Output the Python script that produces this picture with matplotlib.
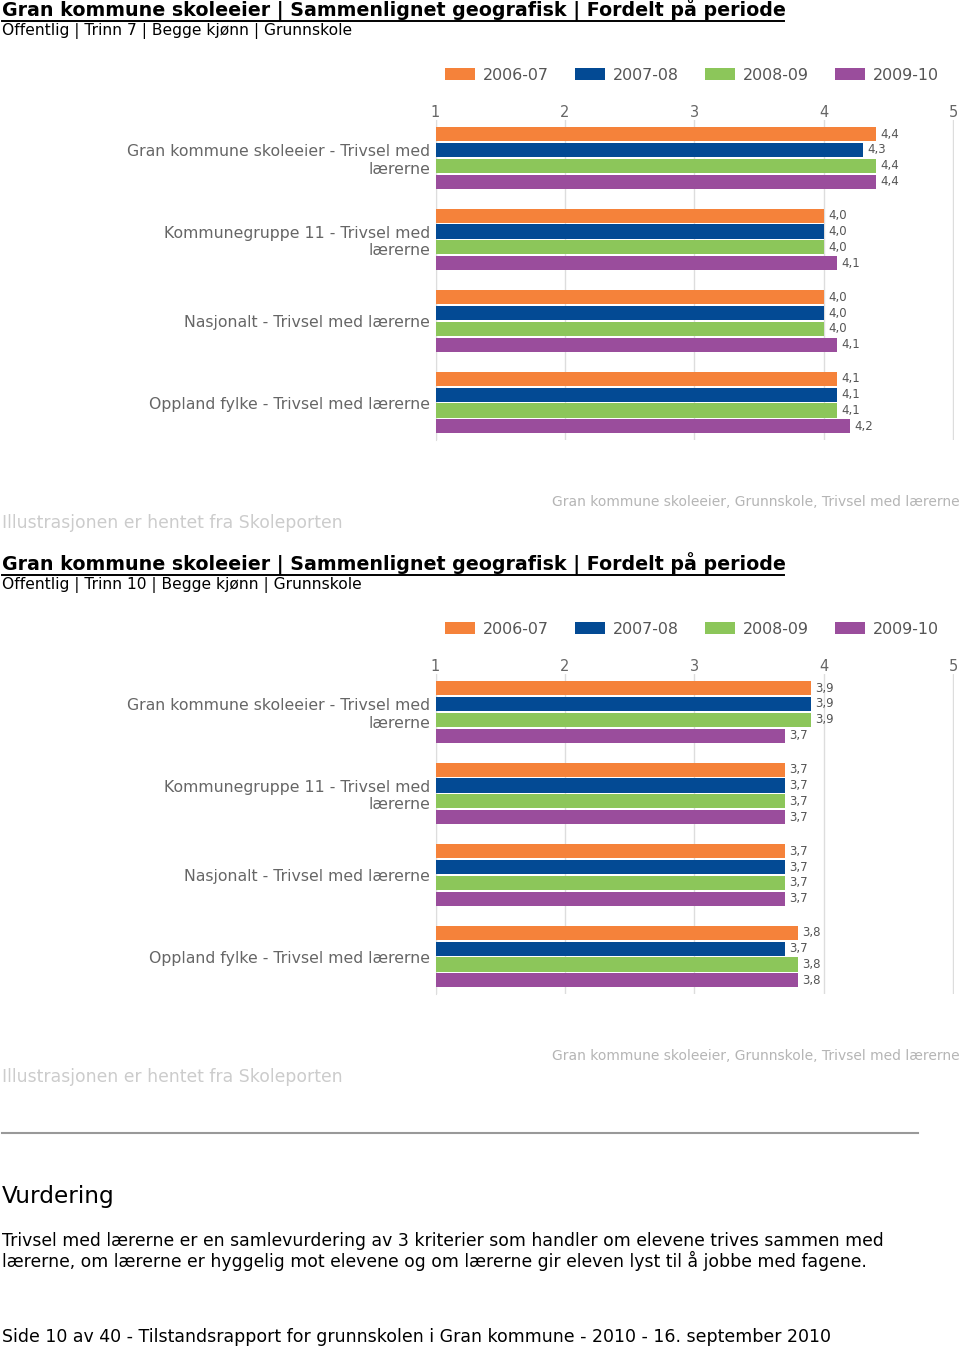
import numpy as np
import matplotlib
matplotlib.use('Agg')
import matplotlib.pyplot as plt
from matplotlib.lines import Line2D
from matplotlib.patches import Patch

W, H = 960, 1347

categories = ['Gran kommune skoleeier - Trivsel med\nlærerne',
              'Kommunegruppe 11 - Trivsel med\nlærerne',
              'Nasjonalt - Trivsel med lærerne',
              'Oppland fylke - Trivsel med lærerne']
periods = ['2006-07', '2007-08', '2008-09', '2009-10']
colors = ['#F5823A', '#034A94', '#8CC65A', '#9A4D9C']

# trinn 7
t7_0607 = [4.4, 4.0, 4.0, 4.1]
t7_0708 = [4.3, 4.0, 4.0, 4.1]
t7_0809 = [4.4, 4.0, 4.0, 4.1]
t7_0910 = [4.4, 4.1, 4.1, 4.2]

# trinn 10
t10_0607 = [3.9, 3.7, 3.7, 3.8]
t10_0708 = [3.9, 3.7, 3.7, 3.7]
t10_0809 = [3.9, 3.7, 3.7, 3.8]
t10_0910 = [3.7, 3.7, 3.7, 3.8]

title = 'Gran kommune skoleeier | Sammenlignet geografisk | Fordelt på periode'
source_txt = 'Gran kommune skoleeier, Grunnskole, Trivsel med lærerne'


def fx(x):
    return x / W


def fy(y):
    return 1 - y / H


fig = plt.figure(figsize=(9.6, 13.47), dpi=100)
fig.patch.set_facecolor('white')


def panel(off, subtitle, series):
    # header
    fig.text(fx(2), fy(10 + off), title, fontsize=13.7, fontweight='bold',
             color='black', va='center', ha='left')
    fig.add_artist(Line2D([fx(2), fx(784)], [fy(20.5 + off), fy(20.5 + off)],
                          color='black', lw=1.4))
    fig.text(fx(2), fy(31 + off), subtitle, fontsize=11.2, color='black',
             va='center', ha='left')

    # legend
    handles = [Patch(facecolor=c, edgecolor='none') for c in colors]
    fig.legend(handles, periods, loc='center', bbox_to_anchor=(fx(692), fy(75 + off)),
               ncol=4, frameon=False, fontsize=11.4, labelcolor='#555555',
               handlelength=1.9, handleheight=0.76, handletextpad=0.5,
               columnspacing=1.65, borderpad=0)

    top, bottom = 120 + off, 440 + off
    ax = fig.add_axes([fx(435.5), fy(bottom), fx(952 - 435.5) + 0.002, (bottom - top) / H])
    ax.set_facecolor('white')

    ypos = np.arange(len(categories))
    pitch = 0.196
    for k, vals in enumerate(series):
        yy = ypos + (k - 1.5) * pitch
        ax.barh(yy, np.array(vals) - 1, left=1, height=0.172, color=colors[k],
                edgecolor='none', zorder=3)
        for y, v in zip(yy, vals):
            ax.annotate(f'{v:.1f}'.replace('.', ','), (v, y), xytext=(3, 0),
                        textcoords='offset points', va='center', ha='left',
                        fontsize=8.5, color='#555555')

    ax.set_xlim(1, 5.004)
    ax.set_ylim(3.46, -0.466)
    ax.set_xticks([1, 2, 3, 4, 5])
    ax.xaxis.tick_top()
    ax.tick_params(axis='x', length=0, pad=0, labelsize=10.5, labelcolor='#666666')
    ax.set_yticks(ypos)
    ax.set_yticklabels(categories, fontsize=11.3, color='#666666', ha='right',
                       multialignment='right')
    ax.tick_params(axis='y', length=0, pad=4)
    ax.grid(axis='x', color='#dddddd', lw=1, zorder=0)
    for s in ['top', 'right', 'bottom']:
        ax.spines[s].set_visible(False)
    ax.spines['left'].set_color('#dddddd')

    fig.text(fx(960), fy(502 + off), source_txt, fontsize=10, color='#b5b5b5',
             va='center', ha='right')
    fig.text(fx(2), fy(523 + off), 'Illustrasjonen er hentet fra Skoleporten',
             fontsize=12.4, color='#cccccc', va='center', ha='left')


panel(0, 'Offentlig | Trinn 7 | Begge kjønn | Grunnskole',
      [t7_0607, t7_0708, t7_0809, t7_0910])
panel(554, 'Offentlig | Trinn 10 | Begge kjønn | Grunnskole',
      [t10_0607, t10_0708, t10_0809, t10_0910])

fig.add_artist(Line2D([fx(2), fx(918)], [fy(1133), fy(1133)], color='#999999', lw=1.5))
fig.text(fx(2), fy(1197), 'Vurdering', fontsize=16.7, color='black', va='center', ha='left')
fig.text(fx(2), fy(1241),
         'Trivsel med lærerne er en samlevurdering av 3 kriterier som handler om elevene trives sammen med',
         fontsize=12.4, color='black', va='center', ha='left')
fig.text(fx(2), fy(1261),
         'lærerne, om lærerne er hyggelig mot elevene og om lærerne gir eleven lyst til å jobbe med fagene.',
         fontsize=12.4, color='black', va='center', ha='left')
fig.text(fx(2), fy(1337),
         'Side 10 av 40 - Tilstandsrapport for grunnskolen i Gran kommune - 2010 - 16. september 2010',
         fontsize=12.5, color='black', va='center', ha='left')

fig.savefig('out.png', dpi=100, facecolor='white')
